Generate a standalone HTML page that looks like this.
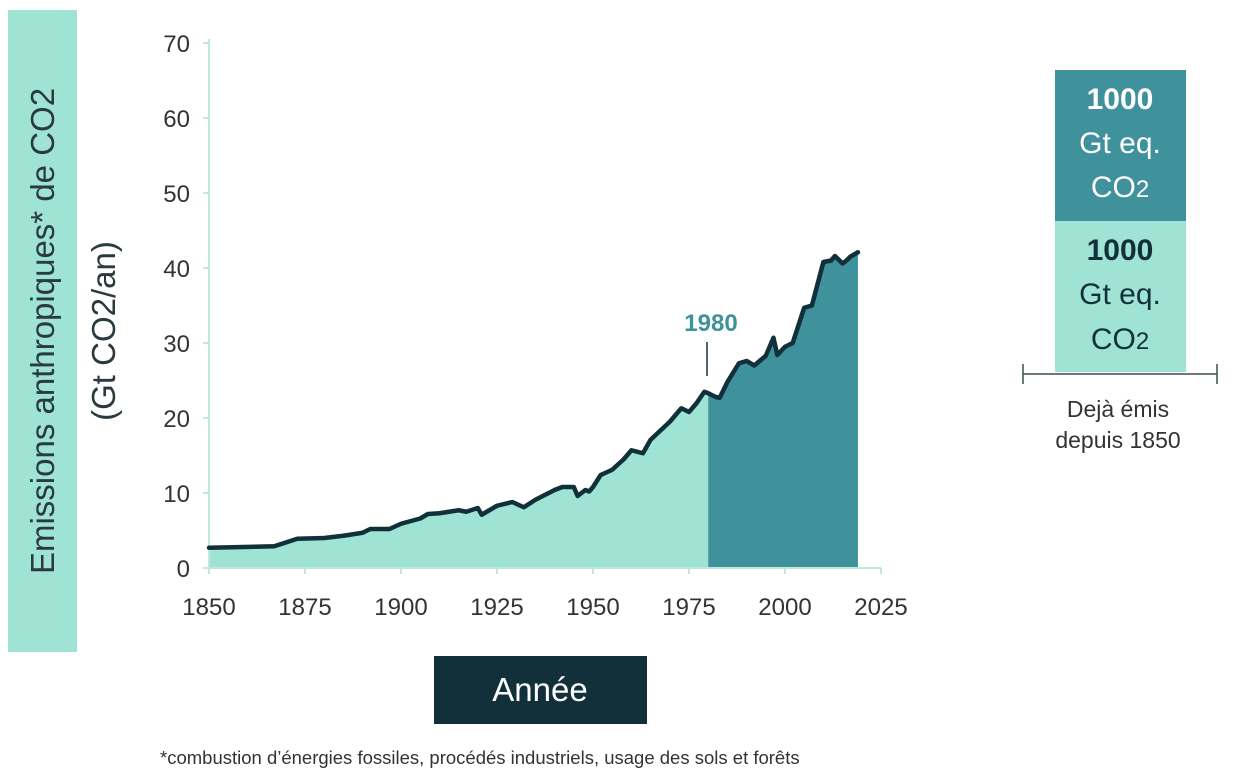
<!DOCTYPE html>
<html><head><meta charset="utf-8"><style>
body{margin:0;background:#fff;}
svg{display:block;font-family:"Liberation Sans",sans-serif;}
</style></head><body>
<svg width="1242" height="784" viewBox="0 0 1242 784">
<rect x="8" y="10" width="69" height="642" fill="#9ee3d3"/>
<text transform="translate(54,331) rotate(-90)" text-anchor="middle" font-size="33" fill="#2a3a3e">Emissions anthropiques* de CO2</text>
<text transform="translate(115,331) rotate(-90)" text-anchor="middle" font-size="33" fill="#2a3a3e">(Gt CO2/an)</text>
<g id="plot"></g>
<line x1="707" y1="342" x2="707" y2="376" stroke="#12303a" stroke-width="1.5"/>
<text x="711" y="331" text-anchor="middle" font-size="24" font-weight="bold" fill="#3f919c">1980</text>
<rect x="434" y="656" width="213" height="68" fill="#12303a"/>
<text x="540" y="701" text-anchor="middle" font-size="33" fill="#fff">Année</text>
<text x="160" y="764" font-size="18.5" fill="#333">*combustion d’énergies fossiles, procédés industriels, usage des sols et forêts</text>
<g>
<rect x="1055" y="70" width="131" height="151" fill="#3f919c"/>
<rect x="1055" y="221" width="131" height="151" fill="#9ee3d3"/>
<g fill="#fff" text-anchor="middle" font-size="30">
<text x="1120" y="109" font-weight="bold">1000</text>
<text x="1120" y="153">Gt eq.</text>
<text x="1120" y="197">CO<tspan font-size="24">2</tspan></text></g>
<g fill="#12303a" text-anchor="middle" font-size="30">
<text x="1120" y="260" font-weight="bold">1000</text>
<text x="1120" y="304">Gt eq.</text>
<text x="1120" y="349">CO<tspan font-size="24">2</tspan></text></g>
<line x1="1023" y1="374" x2="1217" y2="374" stroke="#3b4d52" stroke-width="1.5"/>
<line x1="1023" y1="364" x2="1023" y2="384" stroke="#3b4d52" stroke-width="1.5"/>
<line x1="1217" y1="364" x2="1217" y2="384" stroke="#3b4d52" stroke-width="1.5"/>
<text x="1118" y="417" text-anchor="middle" font-size="23" fill="#333">Dejà émis</text>
<text x="1118" y="448" text-anchor="middle" font-size="23" fill="#333">depuis 1850</text>
</g>
</svg>
<script>
const years=[1850,1867,1870,1873,1880,1885,1890,1892,1897,1900,1905,1907,1910,1915,1917,1920,1921,1923,1925,1929,1932,1935,1940,1942,1945,1946,1948,1949,1950,1952,1955,1958,1960,1963,1965,1970,1973,1975,1977,1979,1980,1982,1983,1985,1988,1990,1992,1995,1997,1998,2000,2002,2005,2007,2010,2012,2013,2015,2017,2016,2019];
const values=[2.7,2.9,3.4,3.9,4.0,4.3,4.7,5.2,5.2,5.9,6.6,7.2,7.3,7.7,7.5,8.0,7.1,7.7,8.3,8.8,8.1,9.1,10.4,10.8,10.8,9.6,10.4,10.2,10.8,12.4,13.1,14.5,15.7,15.3,17.1,19.5,21.3,20.8,22.0,23.5,23.3,22.8,22.7,24.8,27.3,27.6,27.0,28.3,30.7,28.4,29.5,30.0,34.7,35.0,40.8,41.0,41.6,40.6,41.5,41.0,42.1];
// sort by year
const pts=years.map((y,i)=>[y,values[i]]).sort((a,b)=>a[0]-b[0]);
const yTicks=[0,10,20,30,40,50,60,70];
const xTicks=[1850,1875,1900,1925,1950,1975,2000,2025];
const splitYear=1980;
const X=y=>209+(y-1850)*(672/175);
const Y=v=>568-v*7.5;
const NS='http://www.w3.org/2000/svg';
const g=document.getElementById('plot');
function mk(t,a){const e=document.createElementNS(NS,t);for(const k in a)e.setAttribute(k,a[k]);g.appendChild(e);return e;}
function valAt(yr){for(let i=1;i<pts.length;i++){if(pts[i][0]>=yr){const a=pts[i-1],b=pts[i];return a[1]+(b[1]-a[1])*(yr-a[0])/(b[0]-a[0]);}}return pts[pts.length-1][1];}
// fills
const before=pts.filter(p=>p[0]<splitYear), after=pts.filter(p=>p[0]>splitYear);
const sv=valAt(splitYear);
let d1='M'+X(1850)+','+Y(0);before.forEach(p=>d1+=' L'+X(p[0])+','+Y(p[1]));d1+=' L'+X(splitYear)+','+Y(sv)+' L'+X(splitYear)+','+Y(0)+'Z';
const f1=mk('path',{d:d1,fill:'#9ee3d3'});


const last=pts[pts.length-1];
let d2='M'+X(splitYear)+','+Y(0)+' L'+X(splitYear)+','+Y(sv);after.forEach(p=>d2+=' L'+X(p[0])+','+Y(p[1]));d2+=' L'+X(last[0])+','+Y(0)+'Z';
const f2=mk('path',{d:d2,fill:'#3f919c'});


// axes
const ya=mk('line',{x1:209,y1:Y(70)-4,x2:209,y2:Y(0),stroke:'#bfe8de','stroke-width':2});


const xa=mk('line',{x1:209,y1:Y(0),x2:X(2025),y2:Y(0),stroke:'#bfe8de','stroke-width':2});


yTicks.forEach(v=>{
 mk('line',{x1:203,y1:Y(v),x2:209,y2:Y(v),stroke:'#bfe8de','stroke-width':2});
 const t=mk('text',{x:190,y:Y(v)+9,'text-anchor':'end','font-size':24,fill:'#333'});t.textContent=v;
 
 
});
xTicks.forEach(v=>{
 mk('line',{x1:X(v),y1:Y(0),x2:X(v),y2:Y(0)+6,stroke:'#bfe8de','stroke-width':2});
 const t=mk('text',{x:X(v),y:Y(0)+47,'text-anchor':'middle','font-size':24,fill:'#333'});t.textContent=v;
 
 
});
// line
const ln=mk('polyline',{points:pts.map(p=>X(p[0])+','+Y(p[1])).join(' '),fill:'none',stroke:'#12303a','stroke-width':4.5,'stroke-linejoin':'round','stroke-linecap':'round'});


</script>
</body></html>
